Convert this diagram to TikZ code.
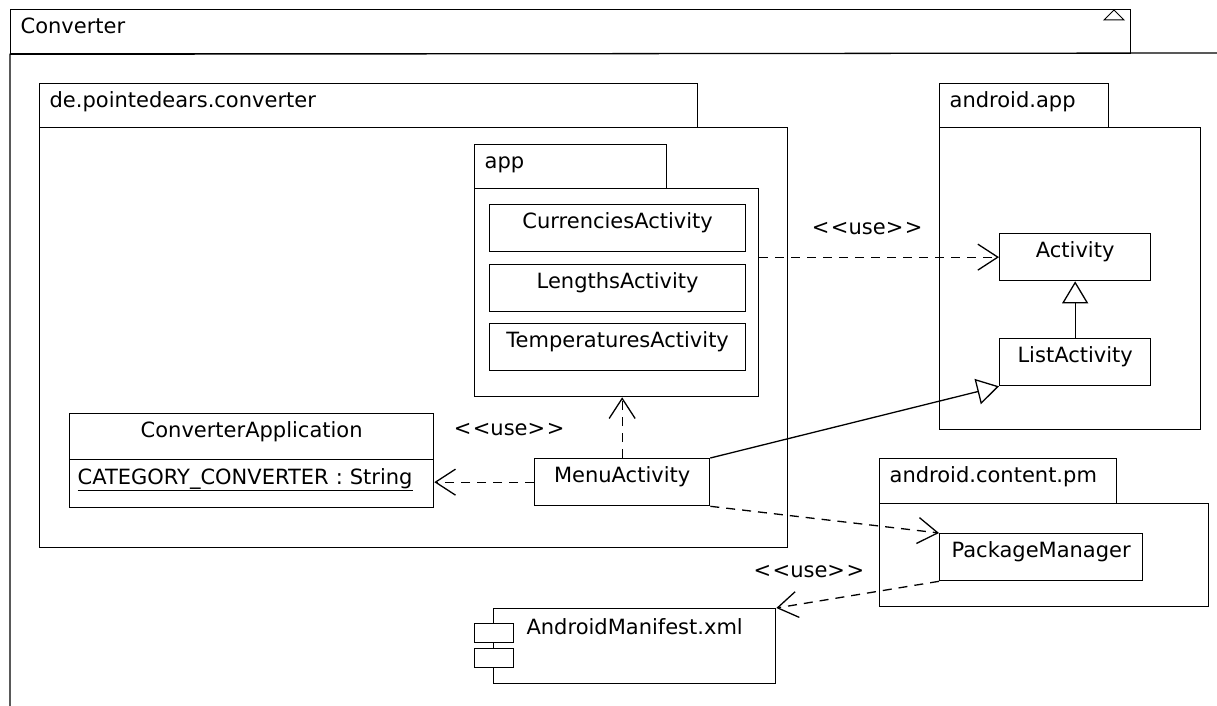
\documentclass[tikz,border=0pt]{standalone}
\usepackage{fontspec}
\setmainfont{DejaVu Sans}
\usepackage{tikz}
\usetikzlibrary{arrows.meta, positioning}

\newcommand{\usetext}{<\kern1.5pt<use>\kern1.5pt>}

\begin{document}
\begin{tikzpicture}[x=1pt, y=-1pt, line width=1.3pt, font=\fontsize{21}{25}\selectfont,
            pkgtab/.style={draw, anchor=north west, inner xsep=10pt, inner ysep=0pt, minimum height=44pt, text height=16pt, text depth=13pt, align=left},
            pkgbody/.style={draw, anchor=north west, inner sep=0pt},
            classbox/.style={draw, fill=white, anchor=north west, inner sep=0pt, minimum height=47pt, text height=16pt, text depth=15pt},
            uselabel/.style={inner sep=2pt, text height=15pt, text depth=4pt},
            usedep/.style={dash pattern=on 9pt off 7pt, -{Straight Barb[length=20pt, width=26pt]}},
            extends/.style={-{Triangle[open, length=22pt, width=26pt]}}]
            \useasboundingbox (0,0) rectangle (1217,706);

            \node[pkgtab, text width=1100pt] (convtab) at (10,9) {Converter};
            \draw (1217,53) -- (convtab.south west) -- (10,706);
            \draw[line width=1pt] (1104,20) -- (1124,20) -- (1114,10) -- cycle;

            \node[pkgtab, text width=638pt] (deptab) at (39,83) {de.pointedears.converter};
            \node[pkgbody, minimum width=748pt, minimum height=420pt] (depbody) at (39,127) {};

            \node[pkgtab, text width=172pt] (apptab) at (474,144) {app};
            \node[pkgbody, minimum width=284pt, minimum height=208pt] (appbody) at (474,188) {};
            \node[classbox, minimum width=256pt] (curr) at (489,204) {CurrenciesActivity};
            \node[classbox, minimum width=256pt] (len) at (489,264) {LengthsActivity};
            \node[classbox, minimum width=256pt] (temp) at (489,323) {TemperaturesActivity};

            \node[pkgtab, text width=149pt] (aapptab) at (939,83) {android.app};
            \node[pkgbody, minimum width=261pt, minimum height=302pt] (aappbody) at (939,127) {};
            \node[classbox, minimum width=151pt] (act) at (999,233) {Activity};
            \node[classbox, minimum width=151pt] (listact) at (999,338) {ListActivity};

            \node[classbox, minimum width=364pt, minimum height=46pt] (convapp) at (69,413) {ConverterApplication};
            \node[classbox, minimum height=48pt, inner xsep=8pt, text width=348pt, align=left] (convattr) at (69,459) {\underline{CATEGORY\_CONVERTER : String}};
            \node[classbox, minimum width=175pt] (menu) at (534,458) {MenuActivity};

            \node[pkgtab, text width=217pt, minimum height=45pt] (pmtab) at (879,458) {android.content.pm};
            \node[pkgbody, minimum width=329pt, minimum height=103pt] (pmbody) at (879,503) {};
            \node[classbox, minimum width=203pt] (pkgmgr) at (939,533) {PackageManager};

            \node[classbox, minimum width=282pt, minimum height=75pt, text depth=39pt] (manifest) at (493,608) {AndroidManifest.xml};
            \node[draw, fill=white, anchor=north west, minimum width=39pt, minimum height=19pt, inner sep=0pt] (mfa) at (474,623) {};
            \node[draw, fill=white, anchor=north west, minimum width=39pt, minimum height=19pt, inner sep=0pt] (mfb) at (474,648) {};

            \draw[usedep] (appbody.east |- act.west) -- node[uselabel, above=16pt, pos=0.45] {\usetext} (act.west);
            \draw[extends] (listact.north) -- (act.south);
            \draw[usedep] (menu.west) -- node[uselabel, above=40pt, pos=0.25] {\usetext} (convattr.east |- menu.west);
            \draw[usedep] (menu.north) -- (menu.north |- appbody.south);
            \draw[extends] (menu.north east) -- (listact.south west);
            \draw[usedep] (menu.south east) -- (pkgmgr.north west);
            \draw[usedep] (pkgmgr.south west) -- node[uselabel, above=19pt, pos=0.8] {\usetext} (manifest.north east);
        \end{tikzpicture}
\end{document}
